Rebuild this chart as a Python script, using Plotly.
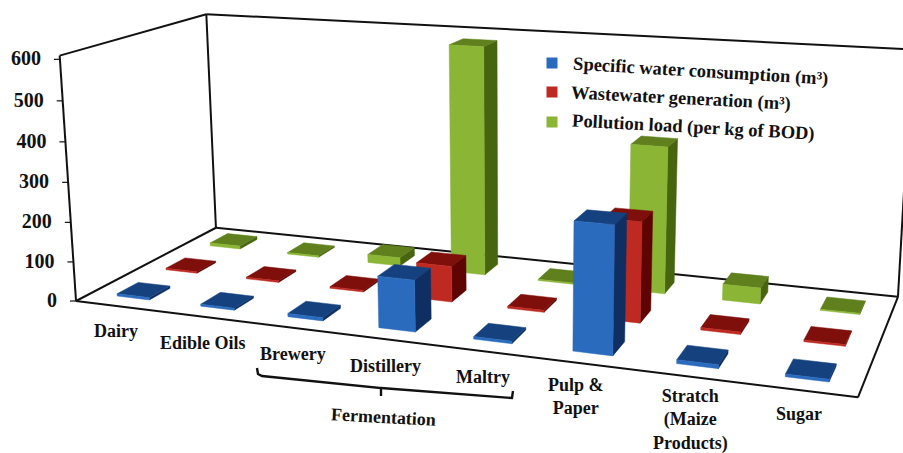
import numpy as np
import plotly.graph_objects as go

# ---- chart data ----
categories = ["Dairy", "Edible Oils", "Brewery", "Distillery", "Maltry",
              "Pulp &<br>Paper", "Stratch<br>(Maize<br>Products)", "Sugar"]
series_names = ["Specific water consumption (m³)", "Wastewater generation (m³)",
                "Pollution load (per kg of BOD)"]
water_use = [6, 5, 8, 125, 6, 300, 9, 6]
wastewater = [4, 4, 4, 90, 5, 245, 6, 4]
pollution = [8, 4, 22, 590, 3, 370, 40, 3]
value_ticks = [0, 100, 200, 300, 400, 500, 600]
group_label = "Fermentation"

# ---- styling ----
SERIES_VALUES = [water_use, wastewater, pollution]
FRONT = ["#2A6BBD", "#BE2A22", "#8BB535"]
TOP = ["#15427F", "#7E0F0B", "#5F801D"]
SIDE = ["#0F2F62", "#5E0503", "#47640F"]
SERIF = "Liberation Serif"
BAR_W = 0.39
BAR_D = 0.42
BAR_CENTRE = 0.512
FRAME_TOP = 609

# Projection from (category, series, value) space to page pixels, solved by
# least squares from the box corners and floor reference points.
box_space = [(0, 0, 0), (8, 0, 0), (0, 3, 0), (8, 3, 0),
             (0, 0, FRAME_TOP), (0, 3, FRAME_TOP), (8, 3, FRAME_TOP),
             (0.5, 0.5, 0), (1.5, 0.5, 0), (4.5, 0.5, 0), (6.5, 0.5, 0), (7.5, 0.5, 0),
             (0.5, 1.5, 0), (7.5, 1.5, 0), (0.5, 2.5, 0), (7.5, 2.5, 0)]
box_page = [(75.5, 301.5), (857, 397), (215.5, 228), (897, 298.5),
            (59, 57), (207, 15), (912, 47),
            (142, 291), (227, 302), (501, 333), (702, 358), (809, 372),
            (190, 266), (827, 338), (233, 241), (842, 307)]


def solve_projection(space, page):
    rows = []
    for (x, y, z), (u, v) in zip(space, page):
        z = z / 100.0
        rows.append([x, y, z, 1, 0, 0, 0, 0, -u * x, -u * y, -u * z, -u])
        rows.append([0, 0, 0, 0, x, y, z, 1, -v * x, -v * y, -v * z, -v])
    _, _, vt = np.linalg.svd(np.array(rows, dtype=float))
    return vt[-1].reshape(3, 4)


P = solve_projection(box_space, box_page)


def project(x, y, z):
    u, v, w = P @ np.array([x, y, z / 100.0, 1.0])
    return u / w, v / w


def polygons(faces):
    xs, ys = [], []
    for face in faces:
        pts = [project(*c) for c in face]
        pts.append(pts[0])
        xs += [p[0] for p in pts] + [None]
        ys += [p[1] for p in pts] + [None]
    return xs, ys


def segments(pairs):
    xs, ys = [], []
    for a, b in pairs:
        pa, pb = project(*a), project(*b)
        xs += [pa[0], pb[0], None]
        ys += [pa[1], pb[1], None]
    return xs, ys


fig = go.Figure()

# Box frame: floor outline, left wall and back wall
T = FRAME_TOP
frame_edges = [((0, 0, 0), (8, 0, 0)), ((0, 0, 0), (0, 3, 0)), ((8, 0, 0), (8, 3, 0)),
               ((0, 3, 0), (8, 3, 0)), ((0, 0, 0), (0, 0, T)), ((0, 3, 0), (0, 3, T)),
               ((8, 3, 0), (8, 3, T)), ((0, 0, T), (0, 3, T)), ((0, 3, T), (8, 3, T))]
fx, fy = segments(frame_edges)
fig.add_trace(go.Scatter(x=fx, y=fy, mode="lines", line=dict(color="#111111", width=2),
                         hoverinfo="skip", showlegend=False))

# Value axis ticks and labels
tx, ty, lx, ly = [], [], [], []
for t in value_ticks:
    u, v = project(0, 0, t)
    tx += [u - 6, u, None]
    ty += [v, v, None]
    lx.append(u - 19)
    ly.append(v + 1)
fig.add_trace(go.Scatter(x=tx, y=ty, mode="lines", line=dict(color="#111111", width=1.2),
                         hoverinfo="skip", showlegend=False))
fig.add_trace(go.Scatter(x=lx, y=ly, mode="text",
                         text=[f"<b>{t}</b>" for t in value_ticks],
                         textposition="middle left",
                         textfont=dict(family=SERIF, size=20, color="#111111"),
                         hoverinfo="skip", showlegend=False))

# Bars, from the back row to the front row
for j in (2, 1, 0):
    y0, y1 = j + 0.5 - BAR_D / 2, j + 0.5 + BAR_D / 2
    sides, tops, fronts = [], [], []
    for i, val in enumerate(SERIES_VALUES[j]):
        x0, x1 = i + BAR_CENTRE - BAR_W / 2, i + BAR_CENTRE + BAR_W / 2
        sides.append([(x1, y0, 0), (x1, y1, 0), (x1, y1, val), (x1, y0, val)])
        tops.append([(x0, y0, val), (x1, y0, val), (x1, y1, val), (x0, y1, val)])
        fronts.append([(x0, y0, 0), (x1, y0, 0), (x1, y0, val), (x0, y0, val)])
    for faces, color in ((sides, SIDE[j]), (tops, TOP[j]), (fronts, FRONT[j])):
        px, py = polygons(faces)
        fig.add_trace(go.Scatter(x=px, y=py, mode="lines", fill="toself", fillcolor=color,
                                 line=dict(color=color, width=0.5), name=series_names[j],
                                 hoverinfo="name", showlegend=False))

annotations = []


def label(text, x, y, size=18, angle=0):
    annotations.append(dict(x=x, y=y, xref="x", yref="y", text=f"<b>{text}</b>",
                            showarrow=False, textangle=angle,
                            xanchor="center", yanchor="middle",
                            font=dict(family=SERIF, size=size, color="#111111")))


# Category labels under the front edge
label_centres = [(116, 331), (203, 343), (293, 354), (385, 366), (483, 377),
                 (576, 396), (690, 420), (799, 414)]
for name, (cx, cy) in zip(categories, label_centres):
    label(name, cx, cy)

# Bracket grouping the fermentation categories
bx = [257, 258, 262, 381, 381, None, 381, 508, 512, 513]
by = [368, 374, 376, 388, 396, None, 388, 398, 398, 391]
fig.add_trace(go.Scatter(x=bx, y=by, mode="lines", line=dict(color="#111111", width=2.4),
                         hoverinfo="skip", showlegend=False))
label(group_label, 383, 417, angle=3)

# Key in the upper right of the wall
key_y = [63, 92, 122]
fig.add_trace(go.Scatter(x=[552, 552, 552], y=key_y, mode="markers",
                         marker=dict(symbol="square", size=11, color=FRONT),
                         hoverinfo="skip", showlegend=False))
for name, (cx, cy, ang) in zip(series_names, [(700, 71, 3.4), (681, 98, 2.9), (693, 127, 3.1)]):
    label(name, cx, cy, size=18.5, angle=ang)

fig.update_layout(
    width=903, height=453, margin=dict(l=0, r=0, t=0, b=0),
    paper_bgcolor="white", plot_bgcolor="white", showlegend=False,
    xaxis=dict(range=[0, 903], visible=False, fixedrange=True),
    yaxis=dict(range=[453, 0], visible=False, fixedrange=True),
    annotations=annotations,
)
fig.write_html("out.html", config=dict(displayModeBar=False))
